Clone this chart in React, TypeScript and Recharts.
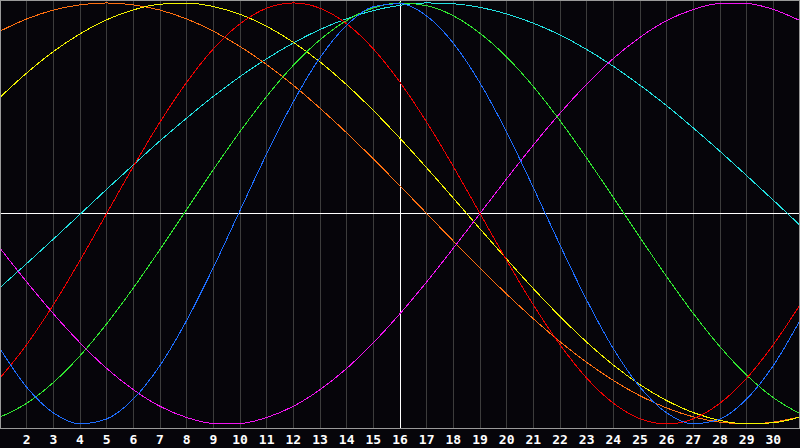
import { CartesianGrid, Line, LineChart, ReferenceLine, XAxis, YAxis } from 'recharts';

const days = [1, 2, 3, 4, 5, 6, 7, 8, 9, 10, 11, 12, 13, 14, 15, 16, 17, 18, 19, 20, 21, 22, 23, 24, 25, 26, 27, 28, 29, 30, 31];
const dayTicks = [2, 3, 4, 5, 6, 7, 8, 9, 10, 11, 12, 13, 14, 15, 16, 17, 18, 19, 20, 21, 22, 23, 24, 25, 26, 27, 28, 29, 30];

// one value per day (-1 .. 1)
const blue = [-0.642, -0.825, -0.947, -0.999, -0.976, -0.881, -0.722, -0.508, -0.257, 0.014, 0.283, 0.531, 0.74, 0.894, 0.982, 0.997, 0.938, 0.809, 0.62, 0.386, 0.123, -0.15, -0.411, -0.642, -0.825, -0.947, -0.999, -0.976, -0.881, -0.722, -0.508];
const red = [-0.782, -0.623, -0.434, -0.223, 0, 0.223, 0.434, 0.623, 0.782, 0.901, 0.975, 1, 0.975, 0.901, 0.782, 0.623, 0.434, 0.223, 0, -0.223, -0.434, -0.623, -0.782, -0.901, -0.975, -1, -0.975, -0.901, -0.782, -0.623, -0.434];
const green = [-0.967, -0.902, -0.803, -0.676, -0.524, -0.354, -0.171, 0.019, 0.208, 0.389, 0.556, 0.704, 0.825, 0.917, 0.976, 1, 0.987, 0.939, 0.856, 0.743, 0.603, 0.441, 0.263, 0.076, -0.114, -0.3, -0.475, -0.633, -0.768, -0.875, -0.951];
const magenta = [-0.165, -0.325, -0.476, -0.614, -0.736, -0.837, -0.916, -0.969, -0.997, -0.997, -0.969, -0.916, -0.837, -0.736, -0.614, -0.476, -0.325, -0.165, 0, 0.165, 0.325, 0.476, 0.614, 0.736, 0.837, 0.916, 0.969, 0.997, 0.997, 0.969, 0.916];
const yellow = [0.552, 0.667, 0.769, 0.853, 0.92, 0.967, 0.994, 0.999, 0.983, 0.946, 0.889, 0.813, 0.72, 0.611, 0.489, 0.357, 0.217, 0.073, -0.073, -0.217, -0.357, -0.489, -0.611, -0.72, -0.813, -0.889, -0.946, -0.983, -0.999, -0.994, -0.967];
const orange = [0.866, 0.924, 0.966, 0.991, 1, 0.991, 0.966, 0.924, 0.866, 0.793, 0.707, 0.609, 0.5, 0.383, 0.259, 0.131, 0, -0.131, -0.259, -0.383, -0.5, -0.609, -0.707, -0.793, -0.866, -0.924, -0.966, -0.991, -1, -0.991, -0.966];
const cyan = [-0.352, -0.238, -0.122, -0.004, 0.115, 0.231, 0.345, 0.453, 0.556, 0.65, 0.735, 0.81, 0.874, 0.925, 0.964, 0.989, 1, 0.996, 0.979, 0.948, 0.904, 0.848, 0.779, 0.699, 0.609, 0.512, 0.406, 0.295, 0.18, 0.063, -0.056];

const series = [
  { key: 'cyan', values: cyan, color: '#22e2e2' },
  { key: 'orange', values: orange, color: '#ff7010' },
  { key: 'yellow', values: yellow, color: '#f4f400' },
  { key: 'magenta', values: magenta, color: '#f214f2' },
  { key: 'green', values: green, color: '#30e630' },
  { key: 'red', values: red, color: '#f00000' },
  { key: 'blue', values: blue, color: '#1e6eff' },
];

const rows = days.map((day, i) => {
  const row: Record<string, number> = { day };
  series.forEach((s) => {
    row[s.key] = s.values[i];
  });
  return row;
});

export default function App() {
  return (
    <div style={{ position: 'absolute', left: 0, top: 0, width: 800, height: 448, background: '#06050a' }}>
      <LineChart width={800} height={448} data={rows} margin={{ top: 0, right: 0, bottom: 0, left: 0 }}>
        <CartesianGrid horizontal={false} stroke="#3c3c3c" shapeRendering="crispEdges" />
        <XAxis
          dataKey="day"
          type="number"
          domain={[1, 31]}
          ticks={dayTicks}
          interval={0}
          height={20}
          axisLine={false}
          tickLine={false}
          tickSize={0}
          tickMargin={7}
          tick={{ fill: '#ffffff', fontSize: 13, fontWeight: 'bold', fontFamily: 'DejaVu Sans Mono' }}
        />
        <YAxis hide type="number" domain={[-1.019, 1.014]} allowDataOverflow />
        <ReferenceLine y={0} stroke="#ffffff" shapeRendering="crispEdges" />
        <ReferenceLine x={16} stroke="#ffffff" shapeRendering="crispEdges" />
        {series.map((s) => (
          <Line
            key={s.key}
            type="monotone"
            dataKey={s.key}
            stroke={s.color}
            strokeWidth={1}
            shapeRendering="crispEdges"
            dot={false}
            activeDot={false}
            isAnimationActive={false}
          />
        ))}
      </LineChart>
      <div
        style={{
          position: 'absolute',
          left: 0,
          top: 0,
          width: 800,
          height: 429,
          boxSizing: 'border-box',
          border: '1px solid #9a9a9a',
          pointerEvents: 'none',
        }}
      />
    </div>
  );
}
